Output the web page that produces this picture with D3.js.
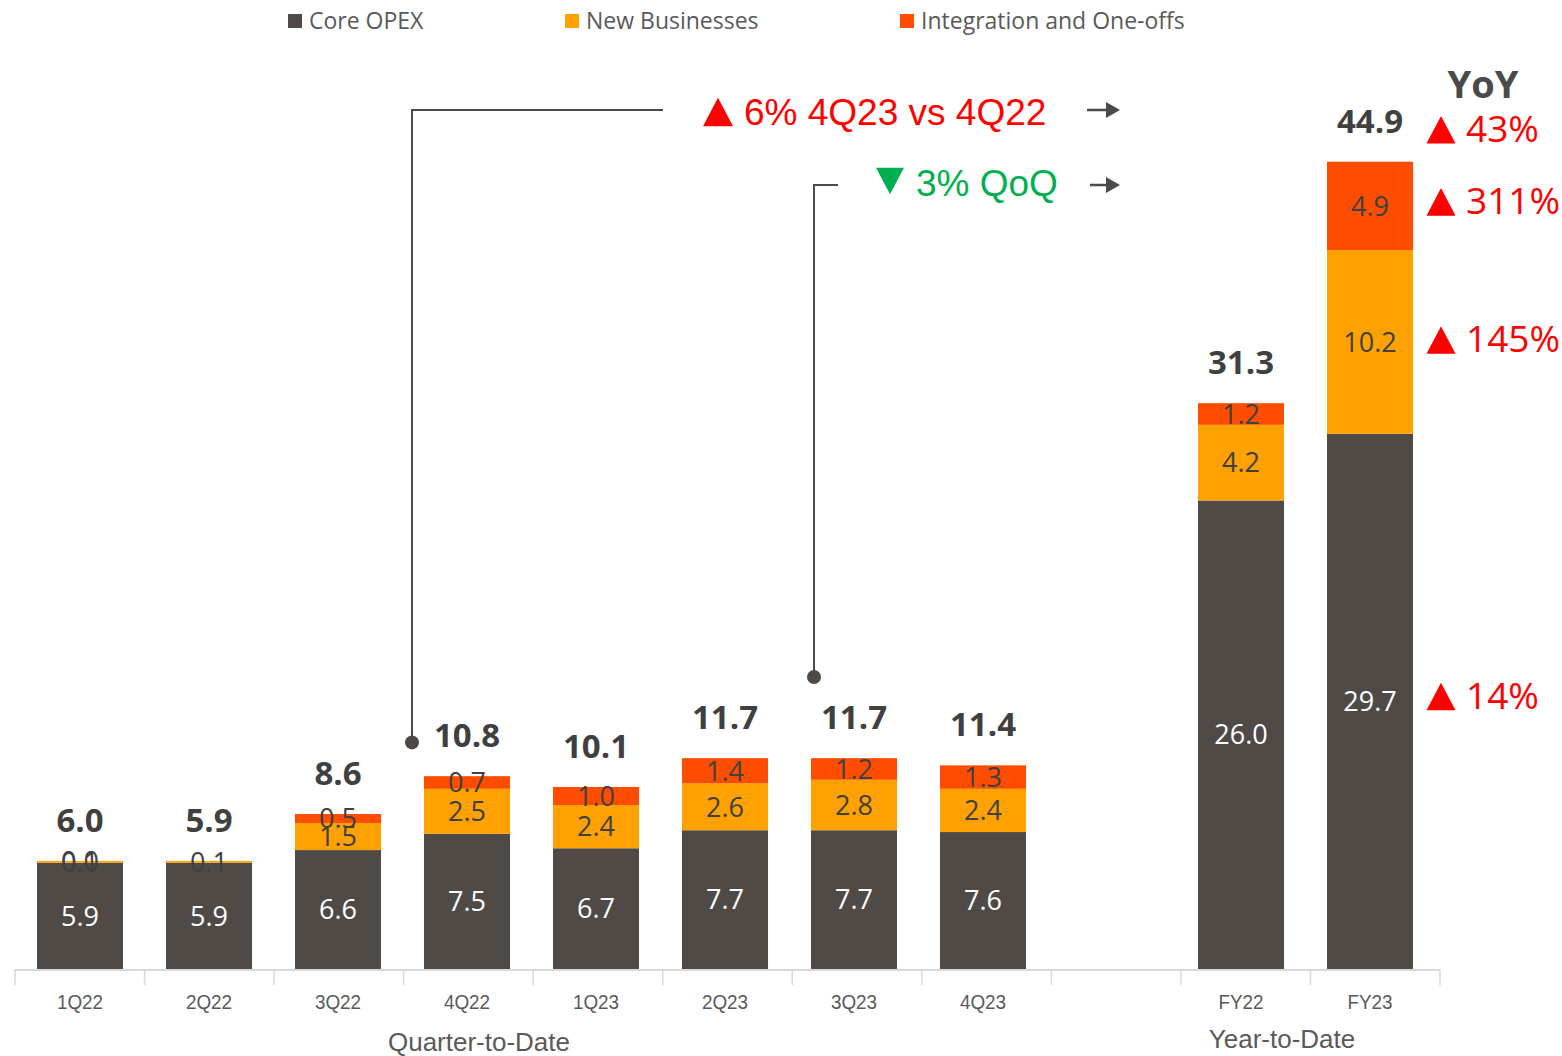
<!DOCTYPE html>
<html>
<head>
<meta charset="utf-8">
<script src="https://cdn.jsdelivr.net/npm/d3@7"></script>
<style>
  html, body { margin: 0; padding: 0; background: #fff; }
  svg { display: block; }
</style>
</head>
<body>
<svg id="chart" width="1562" height="1056"></svg>
<script>
// Periods on the x axis; "" is an empty spacer slot between the two groups
const periods = ["1Q22", "2Q22", "3Q22", "4Q22", "1Q23", "2Q23", "3Q23", "4Q23", "", "FY22", "FY23"];
// Stacked segments (null = no segment drawn)
const coreOpex      = [5.9, 5.9, 6.6, 7.5, 6.7, 7.7, 7.7, 7.6, null, 26.0, 29.7];
const newBusinesses = [0.1, 0.1, 1.5, 2.5, 2.4, 2.6, 2.8, 2.4, null, 4.2, 10.2];
const integration   = [0.0, null, 0.5, 0.7, 1.0, 1.4, 1.2, 1.3, null, 1.2, 4.9];
// Stated totals above each bar
const totals        = [6.0, 5.9, 8.6, 10.8, 10.1, 11.7, 11.7, 11.4, null, 31.3, 44.9];

const seriesNames  = ["Core OPEX", "New Businesses", "Integration and One-offs"];
const seriesColors = ["#4f4a46", "#ffa100", "#ff4d00"];
const labelColors  = ["#ffffff", "#404040", "#404040"];

// FY23 vs FY22 growth, per layer (total, integration, new businesses, core)
const yoyLabels = ["43%", "311%", "145%", "14%"];

const groupNames = ["Quarter-to-Date", "Year-to-Date"];

const svg = d3.select("#chart");
const baseY = 969;

// Bar positions
const x = d3.scaleBand()
  .domain(periods)
  .range([15.5, 1434.5])
  .paddingInner(0.333)
  .paddingOuter(0.1665);

// Category slots of the axis (tick marks on slot boundaries)
const xSlots = d3.scaleBand()
  .domain(periods)
  .range([15, 1440]);

const y = d3.scaleLinear()
  .domain([0, 50])
  .range([baseY, baseY - 50 * 18.02]);

const layers = [coreOpex, newBusinesses, integration];
const rows = periods.map((p, i) => {
  let acc = 0;
  const segs = layers.map((arr, k) => {
    const v = arr[i];
    const s = { period: p, k, v, y0: acc, y1: acc + (v || 0) };
    acc += v || 0;
    return s;
  });
  return { period: p, i, segs, top: acc };
});

const sansBody = "'Open Sans', 'Noto Sans', sans-serif";
const narrow = "'Liberation Sans Narrow', 'Liberation Sans', sans-serif";
const cx = p => x(p) + x.bandwidth() / 2;

// Bars
const barG = svg.append("g");
rows.forEach(r => {
  if (r.period === "") return;
  r.segs.forEach(s => {
    if (s.v === null || s.v === 0) return;
    barG.append("rect")
      .attr("x", x(r.period))
      .attr("width", x.bandwidth())
      .attr("y", y(s.y1))
      .attr("height", y(s.y0) - y(s.y1))
      .attr("fill", seriesColors[s.k]);
  });
});

// Axis line and slot-boundary ticks
const axisG = svg.append("g");
axisG.append("line")
  .attr("x1", 15).attr("x2", 1440)
  .attr("y1", baseY + 1).attr("y2", baseY + 1)
  .attr("stroke", "#d9d9d9").attr("stroke-width", 2);
periods.concat(["end"]).forEach((p, j) => {
  const xx = j < periods.length ? xSlots(p) : xSlots.range()[1];
  axisG.append("line")
    .attr("x1", xx).attr("x2", xx)
    .attr("y1", baseY).attr("y2", baseY + 16)
    .attr("stroke", "#d9d9d9").attr("stroke-width", 1.5);
});

// Category labels, centred under the bars
const xAxis = d3.axisBottom(x).tickSize(0).tickPadding(0);
const xg = svg.append("g").attr("transform", `translate(0,${baseY + 40})`).call(xAxis);
xg.select(".domain").remove();
xg.selectAll(".tick text")
  .attr("dy", 0)
  .attr("y", 0)
  .attr("font-family", narrow)
  .attr("font-size", 21)
  .attr("fill", "#595959")
  .attr("transform", "scale(0.9,1)");

// Group labels
const groupX = [479, 1282];
const groupY = [1051, 1048];
groupNames.forEach((n, gi) => {
  svg.append("text")
    .attr("x", groupX[gi]).attr("y", groupY[gi])
    .attr("text-anchor", "middle")
    .attr("font-family", narrow)
    .attr("font-size", 26)
    .attr("fill", "#595959")
    .text(n);
});

// Segment value labels
const fmt = d3.format(".1f");
rows.forEach(r => {
  if (r.period === "") return;
  r.segs.forEach(s => {
    if (s.v === null) return;
    svg.append("text")
      .attr("x", cx(r.period))
      .attr("y", y((s.y0 + s.y1) / 2))
      .attr("dy", "0.36em")
      .attr("text-anchor", "middle")
      .attr("font-family", sansBody)
      .attr("font-size", 27)
      .attr("fill", labelColors[s.k])
      .text(fmt(s.v));
  });
});

// Totals above bars
rows.forEach(r => {
  if (totals[r.i] === null) return;
  svg.append("text")
    .attr("x", cx(r.period))
    .attr("y", y(r.top) - 29)
    .attr("text-anchor", "middle")
    .attr("font-family", sansBody)
    .attr("font-weight", 700)
    .attr("font-size", 33)
    .attr("fill", "#404040")
    .text(fmt(totals[r.i]));
});

// Legend
const legendX = [288, 565, 900];
seriesNames.forEach((n, k) => {
  svg.append("rect")
    .attr("x", legendX[k]).attr("y", 14)
    .attr("width", 14).attr("height", 14)
    .attr("fill", seriesColors[k]);
  svg.append("text")
    .attr("x", legendX[k] + 21).attr("y", 29)
    .attr("font-family", sansBody)
    .attr("font-size", 23)
    .attr("fill", "#595959")
    .text(n);
});

// Triangle marker helper
function triangle(tx, ty, size, up, color) {
  const h = size * 0.95, w = size;
  const pts = up
    ? [[tx - w / 2, ty + h / 2], [tx + w / 2, ty + h / 2], [tx, ty - h / 2]]
    : [[tx - w / 2, ty - h / 2], [tx + w / 2, ty - h / 2], [tx, ty + h / 2]];
  svg.append("path").attr("d", "M" + pts.join("L") + "Z").attr("fill", color);
}

// Small arrow helper
function arrow(x0, x1, yy) {
  svg.append("line").attr("x1", x0).attr("x2", x1 - 10).attr("y1", yy).attr("y2", yy)
    .attr("stroke", "#4a4a4a").attr("stroke-width", 2.5);
  svg.append("path")
    .attr("d", `M${x1 - 14},${yy - 8}L${x1},${yy}L${x1 - 14},${yy + 8}Z`)
    .attr("fill", "#4a4a4a");
}

// Connector: 4Q22 -> 4Q23 comparison
const lineColor = "#4f4a46";
const c1x = cx("4Q22") - 55;
const c1y = y(totals[3]) - 32;
svg.append("path")
  .attr("d", `M${c1x},${c1y}V110H663`)
  .attr("fill", "none").attr("stroke", lineColor).attr("stroke-width", 2);
svg.append("circle").attr("cx", c1x).attr("cy", c1y).attr("r", 7).attr("fill", lineColor);
triangle(718, 112, 30, true, "#ff0000");
svg.append("text")
  .attr("x", 744).attr("y", 125)
  .attr("font-family", narrow)
  .attr("font-size", 37).attr("fill", "#ff0000")
  .text("6% 4Q23 vs 4Q22");
arrow(1087, 1120, 110);

// Connector: 3Q23 -> 4Q23 comparison
const c2x = cx("3Q23") - 40;
const c2y = 677;
svg.append("path")
  .attr("d", `M${c2x},${c2y}V185H838`)
  .attr("fill", "none").attr("stroke", lineColor).attr("stroke-width", 2);
svg.append("circle").attr("cx", c2x).attr("cy", c2y).attr("r", 7).attr("fill", lineColor);
triangle(890, 181, 28, false, "#00b050");
svg.append("text")
  .attr("x", 916).attr("y", 196)
  .attr("font-family", narrow)
  .attr("font-size", 37).attr("fill", "#00b050")
  .text("3% QoQ");
arrow(1090, 1120, 185);

// YoY column beside FY23
const fy = rows[periods.indexOf("FY23")];
svg.append("text")
  .attr("x", 1483).attr("y", 98)
  .attr("text-anchor", "middle")
  .attr("font-family", sansBody).attr("font-weight", 700)
  .attr("font-size", 38).attr("fill", "#4a4a4a")
  .text("YoY");
const yoyY = [
  y(fy.top) - 33,
  y((fy.segs[2].y0 + fy.segs[2].y1) / 2) - 5,
  y((fy.segs[1].y0 + fy.segs[1].y1) / 2) - 3,
  y((fy.segs[0].y0 + fy.segs[0].y1) / 2) - 6
];
yoyLabels.forEach((t, j) => {
  triangle(1441, yoyY[j] + 1, 29, true, "#ff0000");
  svg.append("text")
    .attr("x", 1466).attr("y", yoyY[j])
    .attr("dy", "0.36em")
    .attr("font-family", sansBody)
    .attr("font-size", 37).attr("fill", "#ff0000")
    .text(t);
});
</script>
</body>
</html>
